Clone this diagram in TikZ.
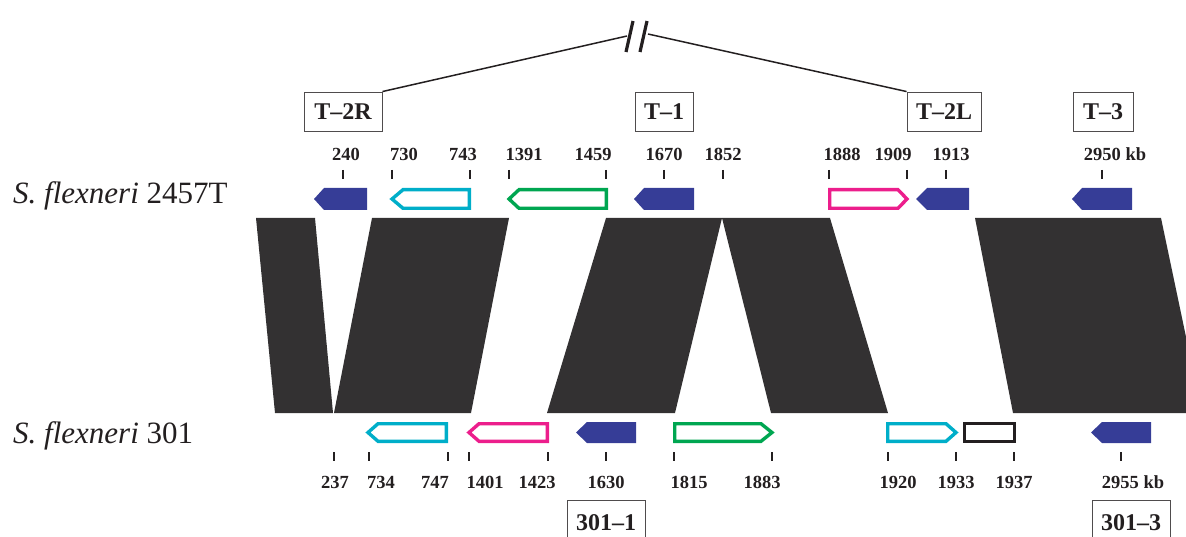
\documentclass[tikz,border=0pt]{standalone}
\usepackage{fontspec}
\setmainfont{Liberation Serif}
\definecolor{dblue}{HTML}{363D97}
\definecolor{cyanc}{HTML}{00AEC9}
\definecolor{greenc}{HTML}{00A651}
\definecolor{pinkc}{HTML}{EC1E8C}
\definecolor{polyc}{HTML}{333132}
\definecolor{inkc}{HTML}{231F20}
\tikzset{
  tick/.style={draw=inkc, line width=1.4pt},
  ticklab/.style={font=\fontsize{18.5}{20}\selectfont\bfseries, text=inkc, anchor=base, inner sep=0pt},
  tbox/.style={draw=inkc!80, line width=0.9pt, font=\fontsize{24}{25}\selectfont\bfseries, text=inkc, inner sep=0pt, minimum height=39pt},
  species/.style={font=\fontsize{31}{33}\selectfont, text=inkc, anchor=base west, inner sep=0pt},
  gout/.style={line width=3.4pt, line join=miter, fill=white},
  gfill/.style={fill=dblue, draw=none},
  block/.style={fill=polyc, draw=none},
  brk/.style={draw=inkc, line width=1.5pt},
  slash/.style={draw=inkc, line width=3.2pt}
}
\begin{document}
\begin{tikzpicture}[x=1pt,y=-1pt]
\useasboundingbox (0,0) rectangle (1186,537);
\clip (0,0) rectangle (1186,537);

% species labels
\node[species] (sp1) at (13,204) {\textit{S. flexneri} 2457T};
\node[species] (sp2) at (13,443) {\textit{S. flexneri} 301};

% synteny blocks
\fill[block] (256,218) -- (315,218) -- (333,413) -- (275,413) -- cycle;
\fill[block] (372,218) -- (509,218) -- (471,413) -- (334,413) -- cycle;
\fill[block] (606,218) -- (722,218) -- (675,413) -- (547,413) -- cycle;
\fill[block] (722,218) -- (830,218) -- (888,413) -- (771,413) -- cycle;
\fill[block] (975,218) -- (1161,218) -- (1202,413) -- (1013,413) -- cycle;

% top boxes
\node[tbox, minimum width=78pt] (t2r) at (343,111.5) {T–2R};
\node[tbox, minimum width=58pt] (t1) at (664,111.5) {T–1};
\node[tbox, minimum width=74pt] (t2l) at (944,111.5) {T–2L};
\node[tbox, minimum width=60pt] (t3) at (1103,111.5) {T–3};

% break connector
\coordinate (brkL) at (627,36);
\coordinate (brkR) at (648,34);
\draw[brk] (t2r.north east) -- (brkL);
\draw[brk] (brkR) -- (t2l.north west);
\draw[slash] (626,52) -- (633,21);
\draw[slash] (640,52) -- (647,21);

% top ticks and labels
\foreach \tx/\lx/\t [count=\n] in {343/346/240, 392/404/730, 470/463/743, 509/524/1391, 606/593/1459, 664/664/1670, 723/723/1852, 829/842/1888, 907/893/1909, 946/951/1913}{
  \draw[tick] (\tx,170) -- (\tx,179);
  \node[ticklab] (tt\n) at (\lx,161) {\t};
}
\draw[tick] (1102,170) -- (1102,179);
\node[ticklab] (tt11) at (1115,161) {2950 kb};

% top genes
\fill[gfill] (367,188) -- (324,188) -- (314,199) -- (324,210) -- (367,210) -- cycle;
\draw[gout, draw=cyanc] (469.3,189.7) -- (403,189.7) -- (392,199) -- (403,208.3) -- (469.3,208.3) -- cycle;
\draw[gout, draw=greenc] (606.3,189.7) -- (519,189.7) -- (509,199) -- (519,208.3) -- (606.3,208.3) -- cycle;
\fill[gfill] (694,188) -- (644,188) -- (634,199) -- (644,210) -- (694,210) -- cycle;
\draw[gout, draw=pinkc] (829.7,189.7) -- (898,189.7) -- (907,199) -- (898,208.3) -- (829.7,208.3) -- cycle;
\fill[gfill] (969,188) -- (927,188) -- (916,199) -- (927,210) -- (969,210) -- cycle;
\fill[gfill] (1132,188) -- (1082,188) -- (1072,199) -- (1082,210) -- (1132,210) -- cycle;

% bottom genes
\draw[gout, draw=cyanc] (446.3,423.7) -- (378,423.7) -- (368,432.5) -- (378,441.3) -- (446.3,441.3) -- cycle;
\draw[gout, draw=pinkc] (547.3,423.7) -- (479,423.7) -- (469,432.5) -- (479,441.3) -- (547.3,441.3) -- cycle;
\fill[gfill] (636,422) -- (587,422) -- (576,432.5) -- (587,443) -- (636,443) -- cycle;
\draw[gout, draw=greenc] (674.7,423.7) -- (761,423.7) -- (772,432.5) -- (761,441.3) -- (674.7,441.3) -- cycle;
\draw[gout, draw=cyanc] (887.7,423.7) -- (946,423.7) -- (956,432.5) -- (946,441.3) -- (887.7,441.3) -- cycle;
\draw[gout, draw=inkc] (964.7,423.7) rectangle (1014.3,441.3);
\fill[gfill] (1151,422) -- (1102,422) -- (1091,432.5) -- (1102,443) -- (1151,443) -- cycle;

% bottom ticks and labels
\foreach \tx/\lx/\t [count=\n] in {334/335/237, 369/381/734, 448/435/747, 469/485/1401, 548/537/1423, 606/606/1630, 674/689/1815, 772/762/1883, 888/898/1920, 956/956/1933, 1014/1014/1937}{
  \draw[tick] (\tx,452) -- (\tx,461);
  \node[ticklab] (bt\n) at (\lx,488) {\t};
}
\draw[tick] (1121,452) -- (1121,461);
\node[ticklab] (bt12) at (1133,488) {2955 kb};

% bottom boxes
\node[tbox, minimum width=78pt, minimum height=45pt] (b1) at (606,522.5) {301–1};
\node[tbox, minimum width=78pt, minimum height=45pt] (b3) at (1131,522.5) {301–3};
\end{tikzpicture}
\end{document}
